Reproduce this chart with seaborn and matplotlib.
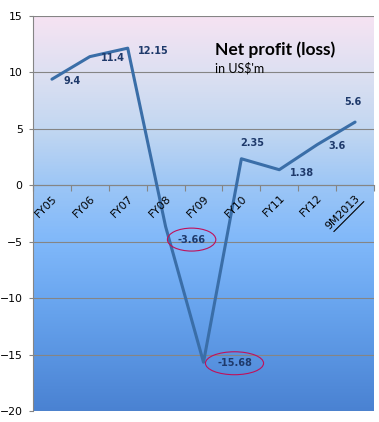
import numpy as np
import pandas as pd
import matplotlib
matplotlib.use('Agg')
import matplotlib.pyplot as plt
import seaborn as sns
from matplotlib.colors import LinearSegmentedColormap
from matplotlib.lines import Line2D
from matplotlib.transforms import IdentityTransform

# ---- data ----
periods = ['FY05', 'FY06', 'FY07', 'FY08', 'FY09', 'FY10', 'FY11', 'FY12', '9M2013']
profit = [9.4, 11.4, 12.15, -3.66, -15.68, 2.35, 1.38, 3.6, 5.6]
value_labels = ['9.4', '11.4', '12.15', '-3.66', '-15.68', '2.35', '1.38', '3.6', '5.6']
circled = ['-3.66', '-15.68']
underlined = ['9M2013']
yticks = [-20, -15, -10, -5, 0, 5, 10, 15]
title = 'Net profit (loss)'
subtitle = "in US$'m"

# ---- style ----
label_offsets = [(20, -2), (23, -1), (26, -3), (26, -13), (31, -1),
                 (11, 16), (23, -3), (20, -1), (-2, 20)]
line_color = '#3A6EA8'
label_color = '#1F3A6B'
grid_color = '#858585'

sns.set_theme(style='white')
plt.rcParams['font.family'] = ['DejaVu Sans']

fig = plt.figure(figsize=(3.79, 4.22), dpi=100)
ax = fig.add_axes([33 / 379, 11 / 422, 341 / 379, 395 / 422])

# gradient background
stops = [(0.0, '#4A82D2'), (0.143, '#5A95E2'), (0.286, '#6BA7F0'), (0.429, '#80B8FA'),
         (0.571, '#9CC6F6'), (0.714, '#C2D7F1'), (0.857, '#DDE0F2'), (1.0, '#F6E3F3')]
cmap = LinearSegmentedColormap.from_list('bg', stops)
grad = np.linspace(1, 0, 512).reshape(-1, 1)
ax.imshow(grad, cmap=cmap, aspect='auto', extent=[-0.5, len(periods) - 0.5, -20, 15],
          origin='upper', zorder=-1, vmin=0, vmax=1)

df = pd.DataFrame({'period': periods, 'profit': profit})
sns.lineplot(data=df, x='period', y='profit', sort=False, color=line_color,
             linewidth=2.2, ax=ax, zorder=3)

ax.set_xlim(-0.5, len(periods) - 0.5)
ax.set_ylim(-20, 15)
ax.set_xlabel('')
ax.set_ylabel('')

# grid
ax.set_yticks(yticks)
ax.set_axisbelow(True)
ax.yaxis.grid(True, color=grid_color, linewidth=0.8)
ax.xaxis.grid(False)

# spines
for s in ['top', 'right']:
    ax.spines[s].set_visible(False)
ax.spines['left'].set_color(grid_color)
ax.spines['left'].set_linewidth(0.8)
ax.spines['bottom'].set_position(('data', 0))
ax.spines['bottom'].set_color(grid_color)
ax.spines['bottom'].set_linewidth(0.8)

ax.set_xticks(np.arange(-0.5, len(periods), 1.0))
ax.tick_params(axis='x', direction='out', length=4, color=grid_color, width=0.8,
               labelbottom=False, bottom=True)
ax.tick_params(axis='y', direction='out', length=3, color=grid_color, width=0.8,
               labelsize=7.8, pad=4.5, left=True, labelcolor='black')

# category labels
for i, p in enumerate(periods):
    ax.text(i + 0.1, -1.0, p, rotation=45, rotation_mode='anchor',
            ha='right', va='center', fontsize=7.8, color='black', zorder=4)
    if p in underlined:
        x0, y0 = ax.transData.transform((i + 0.1, -1.0))
        fig.add_artist(Line2D([x0 + 5, x0 - 25], [y0 - 5, y0 - 35], color='black',
                              linewidth=0.8, transform=IdentityTransform()))

# value labels
for i, (v, lab) in enumerate(zip(profit, value_labels)):
    kw = {}
    if lab in circled:
        kw['bbox'] = dict(boxstyle='ellipse,pad=0.32', fc='none', ec='#C0105A', lw=0.8)
    ax.annotate(lab, (i, v), xytext=label_offsets[i], textcoords='offset pixels',
                ha='center', va='center', fontsize=7, fontweight='bold',
                color=label_color, zorder=5, **kw)

ax.text((215 - 33) / 341, (411 - 55) / 395, title, transform=ax.transAxes,
        fontsize=12.5, fontweight='bold', family=['Lato', 'DejaVu Sans'],
        ha='left', va='baseline', color='black')
ax.text((215 - 33) / 341, (411 - 72) / 395, subtitle, transform=ax.transAxes,
        fontsize=9, family=['Lato', 'DejaVu Sans'],
        ha='left', va='baseline', color='black')

fig.savefig('out.png', dpi=100, facecolor='white')
